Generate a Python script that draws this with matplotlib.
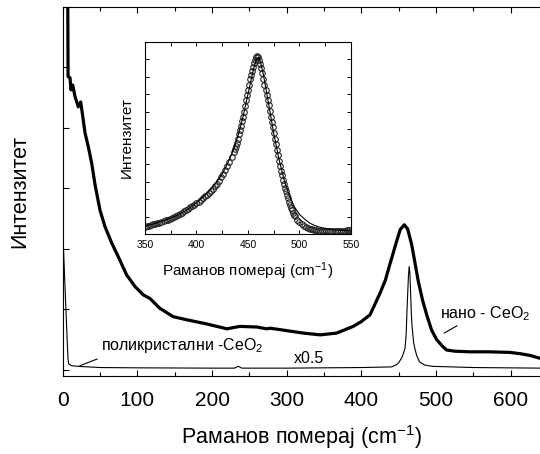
import numpy as np
import matplotlib
matplotlib.use("Agg")
import matplotlib.pyplot as plt
from matplotlib.ticker import MultipleLocator, NullFormatter

plt.rcParams['font.family'] = ['Liberation Sans', 'DejaVu Sans']
plt.rcParams['mathtext.default'] = 'regular'

# нано-CeO2, главни спектар
nano_cm = [6.5, 7.2, 9.8, 11.1, 13.4, 16.5, 20.9, 24.1, 26.2, 29.9, 34.3, 38.8,
           43.5, 50, 56.6, 65.6, 74.5, 85.7, 96.8, 108, 117, 130, 148, 166,
           193, 220, 237, 260, 273, 278, 300, 322, 345, 367, 389, 400, 411.5,
           425, 432, 438, 443, 447, 452, 457.5, 462, 467.4, 476.3, 482, 487.5,
           494, 500.9, 508, 514, 525, 545, 570, 599, 612, 626, 640]
nano_int = [7.0, 4.85, 4.83, 4.63, 4.71, 4.52, 4.35, 4.43, 4.25, 3.92, 3.69, 3.42,
            3.05, 2.64, 2.37, 2.10, 1.87, 1.57, 1.38, 1.24, 1.18, 1.02, 0.88, 0.83,
            0.76, 0.68, 0.72, 0.71, 0.68, 0.69, 0.65, 0.61, 0.58, 0.61, 0.72, 0.80, 0.91,
            1.27, 1.48, 1.74, 1.95, 2.12, 2.32, 2.40, 2.33, 2.07, 1.46, 1.15, 0.91,
            0.66, 0.50, 0.40, 0.33, 0.31, 0.30, 0.30, 0.29, 0.27, 0.24, 0.19]

# поликристални CeO2 (x0.5)
poly_cm = [1, 3, 5, 7, 8, 12, 20, 50, 100, 200, 230, 235, 240, 300, 400, 440,
           446, 450, 454, 457, 458.5, 460, 461, 462, 463, 464, 465, 466, 467,
           468, 470, 471.5, 474, 478, 485, 495, 550, 640]
poly_int = [2.03, 1.40, 0.80, 0.20, 0.10, 0.07, 0.06, 0.04, 0.035, 0.03, 0.03, 0.06,
            0.03, 0.03, 0.04, 0.05, 0.08, 0.12, 0.20, 0.30, 0.36, 0.60, 0.95, 1.25,
            1.55, 1.71, 1.60, 1.25, 0.90, 0.70, 0.45, 0.36, 0.24, 0.13, 0.08, 0.06,
            0.04, 0.03]

# уметак: мерене тачке око F2g моде
ins_cm = np.r_[350:436:2, 436:497, 498:551:2]
ins_int = [0.40, 0.46, 0.48, 0.52, 0.55, 0.58, 0.62, 0.65, 0.70, 0.73, 0.78, 0.82,
           0.87, 0.92, 0.98, 1.03, 1.09, 1.15, 1.22, 1.30, 1.37, 1.45, 1.52, 1.60,
           1.68, 1.76, 1.85, 1.95, 2.05, 2.15, 2.25, 2.36, 2.48, 2.60, 2.72, 2.88,
           3.05, 3.25, 3.45, 3.68, 3.90, 4.12, 4.38,
           4.68, 4.84, 5.01, 5.22, 5.45, 5.70, 5.95, 6.20, 6.45, 6.72, 7.00, 7.32,
           7.65, 7.95, 8.25, 8.55, 8.85, 9.10, 9.35, 9.58, 9.80, 9.97, 10.10, 10.18,
           10.15, 9.98, 9.75, 9.48, 9.20, 8.88, 8.55, 8.25, 7.95, 7.65, 7.35, 7.04,
           6.72, 6.41, 6.10, 5.78, 5.45, 5.12, 4.80, 4.50, 4.20, 3.90, 3.60, 3.35,
           3.10, 2.87, 2.65, 2.45, 2.25, 2.05, 1.85, 1.67, 1.50, 1.36, 1.22, 1.11,
           1.01,
           0.82, 0.68, 0.58, 0.48, 0.40, 0.34, 0.30, 0.27, 0.24, 0.21, 0.19, 0.17,
           0.16, 0.15, 0.15, 0.15, 0.15, 0.15, 0.16, 0.16, 0.17, 0.18, 0.18, 0.19,
           0.20, 0.20, 0.21]

# фит
fit_cm = [350, 360, 370, 380, 390, 400, 410, 420, 425, 430, 435, 440, 445, 450,
          455, 458, 460, 462, 465, 470, 475, 480, 485, 490, 495, 500, 505, 510,
          515, 520, 530, 540, 550]
fit_int = [0.45, 0.60, 0.80, 1.03, 1.35, 1.78, 2.32, 3.00, 3.45, 4.00, 4.70, 5.55,
           6.65, 8.00, 9.35, 10.00, 10.10, 9.85, 9.10, 7.45, 5.75, 4.30, 3.10, 2.20,
           1.55, 1.12, 0.85, 0.62, 0.48, 0.38, 0.27, 0.21, 0.18]

fig = plt.figure(figsize=(5.4, 4.54), dpi=100)
ax = fig.add_axes([0.1161, 0.1718, 0.885, 0.8128])

ax.plot(nano_cm, nano_int, color='black', lw=2.3)
ax.plot(poly_cm, poly_int, color='black', lw=0.8)
ax.set_xlim(0, 640)
ax.set_ylim(-0.1, 6.0)
ax.xaxis.set_major_locator(MultipleLocator(100))
ax.xaxis.set_minor_locator(MultipleLocator(50))
ax.yaxis.set_major_locator(MultipleLocator(1))
ax.yaxis.set_major_formatter(NullFormatter())
ax.tick_params(which='both', direction='in', top=True, right=False, width=0.8,
               labelsize=15)
ax.tick_params(axis='x', which='both', pad=10.5)
ax.tick_params(which='major', length=4)
ax.tick_params(which='minor', length=3)
for s in ax.spines.values():
    s.set_linewidth(0.8)
ax.set_xlabel('Раманов померај (cm$^{-1}$)', fontsize=15.5, labelpad=10)
ax.set_ylabel('Интензитет', fontsize=15.5, labelpad=20)

ax.text(51, 0.33, 'поликристални -CeO$_2$', fontsize=11.5)
ax.plot([23, 46], [0.07, 0.18], color='black', lw=0.8)
ax.text(310, 0.12, 'x0.5', fontsize=11.5)
ax.text(505, 0.86, 'нано - CeO$_2$', fontsize=11.5)
ax.plot([511, 528], [0.61, 0.73], color='black', lw=0.8)

# уметак
axi = fig.add_axes([0.2685, 0.4846, 0.3815, 0.4236])
axi.plot(ins_cm, ins_int, 'o', mfc='none', mec='#222222', ms=4.0, mew=0.8)
axi.plot(fit_cm, fit_int, color='black', lw=0.8)
axi.set_xlim(350, 550)
axi.set_ylim(0, 11)
axi.xaxis.set_major_locator(MultipleLocator(50))
axi.xaxis.set_minor_locator(MultipleLocator(25))
axi.yaxis.set_major_locator(MultipleLocator(1))
axi.yaxis.set_major_formatter(NullFormatter())
axi.tick_params(which='both', direction='in', top=True, right=True, width=0.7,
                length=3, labelsize=7.5, pad=4)
for s in axi.spines.values():
    s.set_linewidth(0.8)
axi.set_xlabel('Раманов померај (cm$^{-1}$)', fontsize=11, labelpad=8)
axi.set_ylabel('Интензитет', fontsize=11, labelpad=4)

fig.savefig('out.png', dpi=100)
